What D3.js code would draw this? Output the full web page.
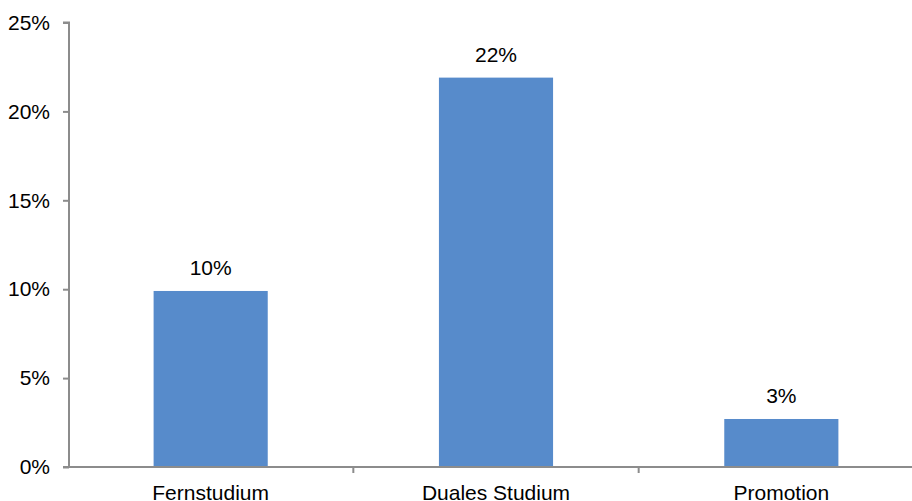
<!DOCTYPE html>
<html>
<head>
<meta charset="utf-8">
<script src="https://cdn.jsdelivr.net/npm/d3@7/dist/d3.min.js"></script>
<style>
  html, body { margin: 0; padding: 0; background: #fff; }
  svg { display: block; font-family: "Liberation Sans", Arial, sans-serif; }
</style>
</head>
<body>
<svg id="chart" width="912" height="501"></svg>
<script>
// Share of respondents per study format
const categories = ["Fernstudium", "Duales Studium", "Promotion"];
const values = [0.099, 0.219, 0.027];
const yTicks = [0, 0.05, 0.10, 0.15, 0.20, 0.25];

const svg = d3.select("#chart");
const plotLeft = 68, plotRight = 924, plotTop = 22.5, plotBottom = 467;
const fontSize = 21;

const x = d3.scaleBand()
  .domain(categories)
  .range([plotLeft, plotRight])
  .paddingInner(0.6)
  .paddingOuter(0.3);

const y = d3.scaleLinear().domain([0, 0.25]).range([plotBottom, plotTop]);
const pct = d3.format(".0%");
const axisColor = "#8c8c8c";

// Bars
svg.append("g").selectAll("rect")
  .data(categories)
  .join("rect")
  .attr("x", d => x(d))
  .attr("width", x.bandwidth())
  .attr("y", (d, i) => y(values[i]))
  .attr("height", (d, i) => y(0) - y(values[i]))
  .attr("fill", "#578bcb");

// Value labels
svg.append("g").selectAll("text")
  .data(categories)
  .join("text")
  .attr("x", d => x(d) + x.bandwidth() / 2)
  .attr("y", (d, i) => y(values[i]) - 16)
  .attr("text-anchor", "middle")
  .attr("font-size", fontSize)
  .attr("fill", "#000")
  .text((d, i) => pct(values[i]));

// Y axis
const yAxis = d3.axisLeft(y)
  .tickValues(yTicks)
  .tickFormat(pct)
  .tickSize(6)
  .tickPadding(13);
const gy = svg.append("g").attr("transform", `translate(${plotLeft + 1},0)`).call(yAxis);
gy.select(".domain").attr("stroke", axisColor).attr("stroke-width", 2).attr("d", `M-6,${plotTop}H0V${plotBottom}H-6`);
gy.selectAll(".tick line").attr("stroke", axisColor).attr("stroke-width", 2);
gy.selectAll(".tick text").attr("font-size", fontSize).attr("fill", "#000").attr("font-family", "Liberation Sans, Arial, sans-serif");

// X axis with category separators
const step = x.step();
const sepPositions = categories.map(d => x(d) - step * 0.3);
const gx = svg.append("g");
gx.append("line")
  .attr("x1", plotLeft).attr("x2", plotRight)
  .attr("y1", plotBottom).attr("y2", plotBottom)
  .attr("stroke", axisColor).attr("stroke-width", 2);
gx.selectAll("line.sep")
  .data(sepPositions.slice(1))
  .join("line")
  .attr("class", "sep")
  .attr("x1", d => d).attr("x2", d => d)
  .attr("y1", plotBottom).attr("y2", plotBottom + 6)
  .attr("stroke", axisColor).attr("stroke-width", 2);
gx.selectAll("text")
  .data(categories)
  .join("text")
  .attr("x", d => x(d) + x.bandwidth() / 2)
  .attr("y", plotBottom + 33)
  .attr("text-anchor", "middle")
  .attr("font-size", fontSize)
  .attr("fill", "#000")
  .text(d => d);
</script>
</body>
</html>
